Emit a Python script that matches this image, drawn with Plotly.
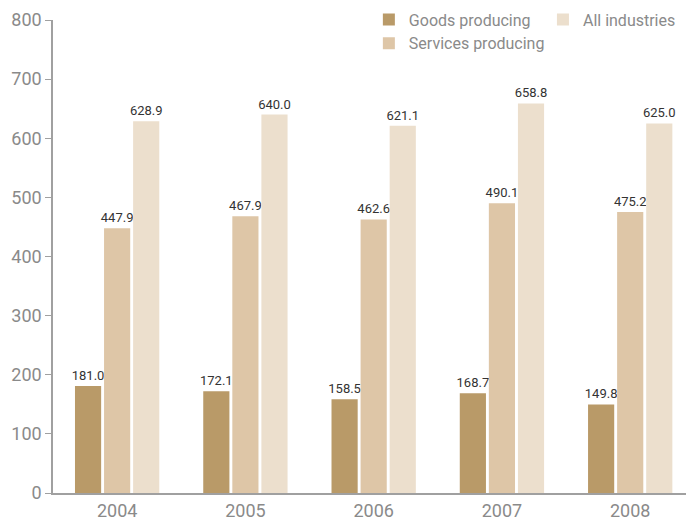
import plotly.graph_objects as go

years = ["2004", "2005", "2006", "2007", "2008"]
goods = [181.0, 172.1, 158.5, 168.7, 149.8]
services = [447.9, 467.9, 462.6, 490.1, 475.2]
all_ind = [628.9, 640.0, 621.1, 658.8, 625.0]

xpos = list(range(len(years)))
font_fam = "Roboto, sans-serif"

fig = go.Figure()
series = [
    ("Goods producing", goods, "#b99a68", "legend"),
    ("Services producing", services, "#dec6a7", "legend"),
    ("All industries", all_ind, "#ecdfcd", "legend2"),
]
for name, vals, col, lg in series:
    fig.add_trace(go.Bar(
        x=xpos, y=vals, name=name, marker=dict(color=col, line=dict(width=0)),
        text=[f"{v:.1f}" for v in vals], textposition="outside",
        constraintext="none",
        textfont=dict(family=font_fam, size=13, color="#333333"),
        cliponaxis=False, legend=lg,
    ))

legend_common = dict(orientation="v", yanchor="top", xanchor="left",
                     font=dict(size=16, color="#8a8a8a", family=font_fam),
                     bgcolor="rgba(0,0,0,0)")

fig.update_layout(
    width=686, height=524,
    margin=dict(l=53, r=0, t=20, b=31),
    plot_bgcolor="white", paper_bgcolor="white",
    barmode="group", bargap=0.32, bargroupgap=0.1,
    font=dict(family=font_fam, color="#8a8a8a"),
    showlegend=True,
    legend=dict(x=0.499, y=1.037, **legend_common),
    legend2=dict(x=0.774, y=1.037, **legend_common),
    xaxis=dict(tickmode="array", tickvals=xpos, ticktext=years,
               range=[-0.5, 4.435], showline=True, linecolor="#a0a0a0", linewidth=2,
               ticks="", showgrid=False, zeroline=False,
               tickfont=dict(size=18, color="#8a8a8a")),
    yaxis=dict(range=[0, 800], dtick=100, showline=True, linecolor="#a0a0a0", linewidth=1.5,
               ticks="outside", ticklen=6, tickcolor="#a0a0a0", showgrid=False, zeroline=False,
               tickfont=dict(size=18, color="#8a8a8a")),
)
fig.write_html("out.html")
